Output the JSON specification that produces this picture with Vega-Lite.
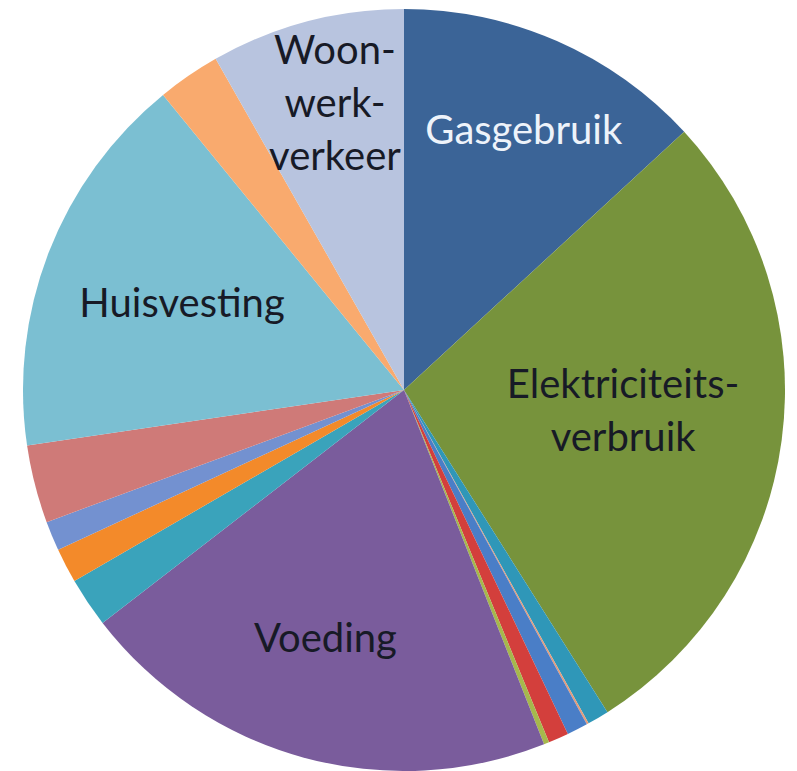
{
  "$schema": "https://vega.github.io/schema/vega-lite/v6.json",
  "width": 762,
  "height": 762,
  "padding": {"left": 23, "top": 9, "right": 12, "bottom": 0},
  "background": "white",
  "config": {"view": {"stroke": null}},
  "data": {
    "values": [
      {"idx": 1, "name": "Gasgebruik", "label": "Gasgebruik", "share": 47.3},
      {"idx": 2, "name": "Elektriciteitsverbruik", "label": "Elektriciteits-\nverbruik", "share": 100.3},
      {"idx": 3, "name": "Overig 1", "label": "", "share": 3.3},
      {"idx": 4, "name": "Overig 2", "label": "", "share": 0.3},
      {"idx": 5, "name": "Overig 3", "label": "", "share": 3.2},
      {"idx": 6, "name": "Overig 4", "label": "", "share": 3.1},
      {"idx": 7, "name": "Overig 5", "label": "", "share": 0.8},
      {"idx": 8, "name": "Voeding", "label": "Voeding", "share": 73.8},
      {"idx": 9, "name": "Overig 6", "label": "", "share": 7.6},
      {"idx": 10, "name": "Overig 7", "label": "", "share": 5.3},
      {"idx": 11, "name": "Overig 8", "label": "", "share": 4.5},
      {"idx": 12, "name": "Overig 9", "label": "", "share": 11.9},
      {"idx": 13, "name": "Huisvesting", "label": "Huisvesting", "share": 59.1},
      {"idx": 14, "name": "Overig 10", "label": "", "share": 9.6},
      {"idx": 15, "name": "Woon-werk-verkeer", "label": "Woon-\nwerk-\nverkeer", "share": 29.6}
    ]
  },
  "encoding": {
    "theta": {"field": "share", "type": "quantitative", "stack": true},
    "order": {"field": "idx", "type": "quantitative"}
  },
  "layer": [
    {
      "mark": {"type": "arc", "outerRadius": 381},
      "encoding": {
        "color": {
          "field": "name",
          "type": "nominal",
          "legend": null,
          "scale": {
            "domain": ["Gasgebruik", "Elektriciteitsverbruik", "Overig 1", "Overig 2", "Overig 3", "Overig 4", "Overig 5", "Voeding", "Overig 6", "Overig 7", "Overig 8", "Overig 9", "Huisvesting", "Overig 10", "Woon-werk-verkeer"],
            "range": ["#3B6497", "#77933C", "#2F97B8", "#E59C7B", "#4A7EC7", "#D33F3C", "#A6B84C", "#7A5C9C", "#3AA3BB", "#F38A2A", "#7391D0", "#CF7A78", "#7BBFD2", "#F9AA6E", "#B8C4DF"]
          }
        }
      }
    },
    {
      "mark": {"type": "text", "radius": 286, "dx": 5, "dy": 4, "font": "Lato", "fontSize": 40, "color": "#EEF3FA", "align": "center", "baseline": "middle", "lineBreak": "\n", "lineHeight": 52},
      "encoding": {"text": {"condition": {"test": "datum.name === 'Gasgebruik'", "field": "label"}, "value": ""}}
    },
    {
      "mark": {"type": "text", "radius": 220, "dx": 1, "dy": -33, "font": "Lato", "fontSize": 40, "color": "#171a26", "align": "center", "baseline": "middle", "lineBreak": "\n", "lineHeight": 53},
      "encoding": {"text": {"condition": {"test": "datum.name === 'Elektriciteitsverbruik'", "field": "label"}, "value": ""}}
    },
    {
      "mark": {"type": "text", "radius": 259, "dx": -10, "dy": 0, "font": "Lato", "fontSize": 40, "color": "#171a26", "align": "center", "baseline": "middle", "lineBreak": "\n", "lineHeight": 52},
      "encoding": {"text": {"condition": {"test": "datum.name === 'Voeding'", "field": "label"}, "value": ""}}
    },
    {
      "mark": {"type": "text", "radius": 237, "dx": -1, "dy": 1, "font": "Lato", "fontSize": 40, "color": "#171a26", "align": "center", "baseline": "middle", "lineBreak": "\n", "lineHeight": 52},
      "encoding": {"text": {"condition": {"test": "datum.name === 'Huisvesting'", "field": "label"}, "value": ""}}
    },
    {
      "mark": {"type": "text", "radius": 293.5, "dx": 6, "dy": -54, "font": "Lato", "fontSize": 40, "color": "#171a26", "align": "center", "baseline": "middle", "lineBreak": "\n", "lineHeight": 53},
      "encoding": {"text": {"condition": {"test": "datum.name === 'Woon-werk-verkeer'", "field": "label"}, "value": ""}}
    }
  ]
}
